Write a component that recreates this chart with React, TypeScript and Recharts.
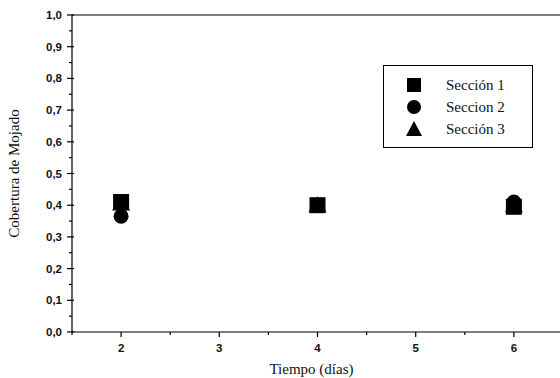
import React from "react";
import { ScatterChart, Scatter, XAxis, YAxis, ReferenceLine } from "recharts";

const days = [2, 4, 6];
const seccion1 = [0.41, 0.4, 0.395];
const seccion2 = [0.365, 0.4, 0.41];
const seccion3 = [0.405, 0.4, 0.4];
const seriesNames = ["Sección 1", "Seccion 2", "Sección 3"];
const xTicks = [1.5, 2, 2.5, 3, 3.5, 4, 4.5, 5, 5.5, 6, 6.5];
const yTicks = [0, 0.05, 0.1, 0.15, 0.2, 0.25, 0.3, 0.35, 0.4, 0.45, 0.5, 0.55, 0.6, 0.65, 0.7, 0.75, 0.8, 0.85, 0.9, 0.95, 1.0];
const xTitle = "Tiempo (días)";
const yTitle = "Cobertura de Mojado";

const toPoints = (vals: number[]) => days.map((d, i) => ({ x: d, y: vals[i] }));
const d1 = toPoints(seccion1);
const d2 = toPoints(seccion2);
const d3 = toPoints(seccion3);

const isMajor = (v: number, step: number) => Math.abs(v / step - Math.round(v / step)) < 1e-6;

const XTick = (props: any) => {
  const { x, y, payload } = props;
  const v = payload.value;
  const major = isMajor(v, 1);
  return (
    <g>
      <line x1={x} x2={x} y1={y} y2={y + (major ? 5 : 3)} stroke="#000" strokeWidth={1.2} />
      {major && (
        <text x={x} y={y + 20} textAnchor="middle" fontFamily="Liberation Sans, Arial, sans-serif" fontSize={11.5} fontWeight="bold" fill="#111">
          {v}
        </text>
      )}
    </g>
  );
};

const YTick = (props: any) => {
  const { x, y, payload } = props;
  const v = payload.value;
  const major = isMajor(v, 0.1);
  return (
    <g>
      <line x1={x - (major ? 5 : 3)} x2={x + (major ? 2 : 0)} y1={y} y2={y} stroke="#000" strokeWidth={1.2} />
      {major && (
        <text x={x - 10} y={y + 4} textAnchor="end" fontFamily="Liberation Sans, Arial, sans-serif" fontSize={11.5} fontWeight="bold" fill="#111">
          {v.toFixed(1).replace(".", ",")}
        </text>
      )}
    </g>
  );
};

const SquareShape = (p: any) => <rect x={p.cx - 8} y={p.cy - 8} width={16} height={16} fill="#000" />;
const CircleShape = (p: any) => <circle cx={p.cx} cy={p.cy} r={7.5} fill="#000" />;
const TriangleShape = (p: any) => (
  <polygon points={`${p.cx},${p.cy - 9} ${p.cx + 9},${p.cy + 7} ${p.cx - 9},${p.cy + 7}`} fill="#000" />
);

const LegendBox = () => {
  const icons = [
    <rect x={3} y={3} width={14} height={14} fill="#000" />,
    <circle cx={10} cy={10} r={7} fill="#000" />,
    <polygon points="10,2 18,17 2,17" fill="#000" />,
  ];
  return (
    <div
      style={{
        position: "absolute",
        left: 383,
        top: 65,
        border: "1.2px solid #000",
        width: 150,
        height: 83,
        boxSizing: "border-box",
        padding: "8px 0 0 20px",
        background: "#fff",
      }}
    >
      {seriesNames.map((n, i) => (
        <div key={n} style={{ display: "flex", alignItems: "center", height: 22 }}>
          <svg width={20} height={20}>{icons[i]}</svg>
          <span style={{ marginLeft: 22, fontFamily: "Liberation Serif, Times New Roman, serif", fontSize: 15, color: "#111" }}>{n}</span>
        </div>
      ))}
    </div>
  );
};

export default function App() {
  return (
    <div style={{ position: "absolute", left: 0, top: 0, width: 560, height: 378, overflow: "hidden", background: "#fff" }}>
      <ScatterChart width={572} height={378} margin={{ top: 15, right: 9, bottom: 0, left: 0 }}>
        <XAxis
          type="number"
          dataKey="x"
          domain={[1.5, 6.5]}
          ticks={xTicks}
          interval={0}
          tickSize={0}
          tickMargin={0}
          tickLine={false}
          tick={<XTick />}
          height={46}
          axisLine={{ stroke: "#000", strokeWidth: 1.2 }}
          label={{ value: xTitle, position: "insideBottom", offset: 4, dx: -6, fill: "#111", fontSize: 15, fontFamily: "Liberation Serif, Times New Roman, serif" }}
        />
        <YAxis
          type="number"
          dataKey="y"
          domain={[0, 1]}
          ticks={yTicks}
          interval={0}
          tickSize={0}
          tickMargin={0}
          tickLine={false}
          tick={<YTick />}
          width={72}
          axisLine={{ stroke: "#000", strokeWidth: 1.2 }}
          label={{ value: yTitle, angle: -90, position: "insideLeft", offset: 14, style: { textAnchor: "middle" }, fill: "#111", fontSize: 15, fontFamily: "Liberation Serif, Times New Roman, serif" }}
        />
        <ReferenceLine y={1} stroke="#000" strokeWidth={1.2} />
        <Scatter name={seriesNames[1]} data={d2} shape={<CircleShape />} fill="#000" isAnimationActive={false} />
        <Scatter name={seriesNames[2]} data={d3} shape={<TriangleShape />} fill="#000" isAnimationActive={false} />
        <Scatter name={seriesNames[0]} data={d1} shape={<SquareShape />} fill="#000" isAnimationActive={false} />
      </ScatterChart>
      <LegendBox />
    </div>
  );
}
